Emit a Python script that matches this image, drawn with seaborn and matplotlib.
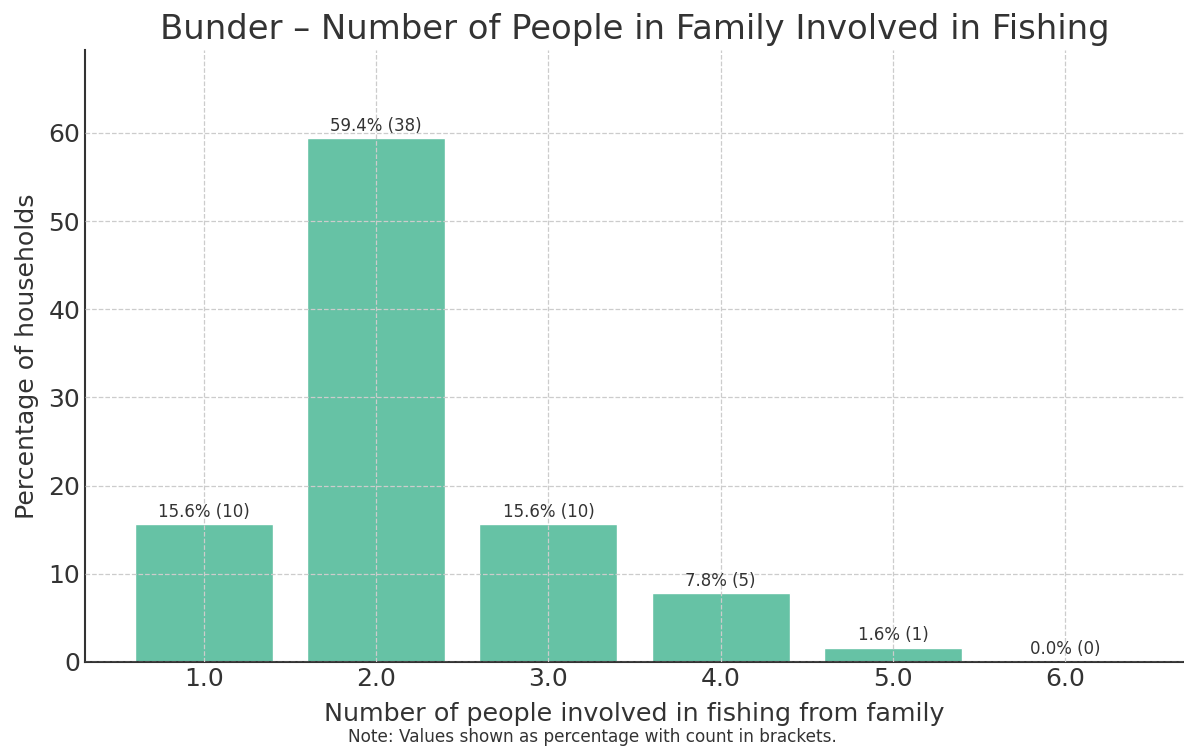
import matplotlib
matplotlib.use("Agg")
import matplotlib.pyplot as plt
import seaborn as sns
import pandas as pd

people = [1.0, 2.0, 3.0, 4.0, 5.0, 6.0]
percent = [15.6, 59.4, 15.6, 7.8, 1.6, 0.0]
counts = [10, 38, 10, 5, 1, 0]

sns.set_style("white")
plt.rcParams['font.family'] = ['DejaVu Sans']
text_color = "#333333"

df = pd.DataFrame({"people": [f"{p:.1f}" for p in people], "percent": percent})

fig = plt.figure(figsize=(11.84, 7.49), dpi=100)
ax = fig.add_axes([0.0718, 0.1162, 0.9282, 0.817])

sns.barplot(data=df, x="people", y="percent", color="#66c2a5", saturation=1,
            width=0.8, ax=ax)

for i, (p, c) in enumerate(zip(percent, counts)):
    ax.text(i, p + 0.4, f"{p:.1f}% ({c})", ha="center", va="bottom",
            fontsize=12, color=text_color)

ax.set_xlim(-0.69, 5.69)
ax.set_ylim(0, 69.4)
ax.set_yticks([0, 10, 20, 30, 40, 50, 60])
ax.set_axisbelow(False)
ax.grid(True, linestyle="--", color="#cccccc", linewidth=0.9)
for s in ["top", "right"]:
    ax.spines[s].set_visible(False)
for s in ["left", "bottom"]:
    ax.spines[s].set_color(text_color)
    ax.spines[s].set_linewidth(1.5)
ax.tick_params(axis="both", direction="in", length=6, width=1.2,
               colors=text_color, labelsize=18, labelcolor=text_color)
ax.set_xlabel("Number of people involved in fishing from family", fontsize=18.3,
              color=text_color, labelpad=8)
ax.set_ylabel("Percentage of households", fontsize=18.2, color=text_color,
              labelpad=7)
ax.set_title("Bunder – Number of People in Family Involved in Fishing",
             fontsize=24.4, color=text_color, pad=8)
fig.text(0.5, 0.004, "Note: Values shown as percentage with count in brackets.",
         ha="center", va="bottom", fontsize=12.2, color=text_color)

fig.savefig("out.png", dpi=100)
